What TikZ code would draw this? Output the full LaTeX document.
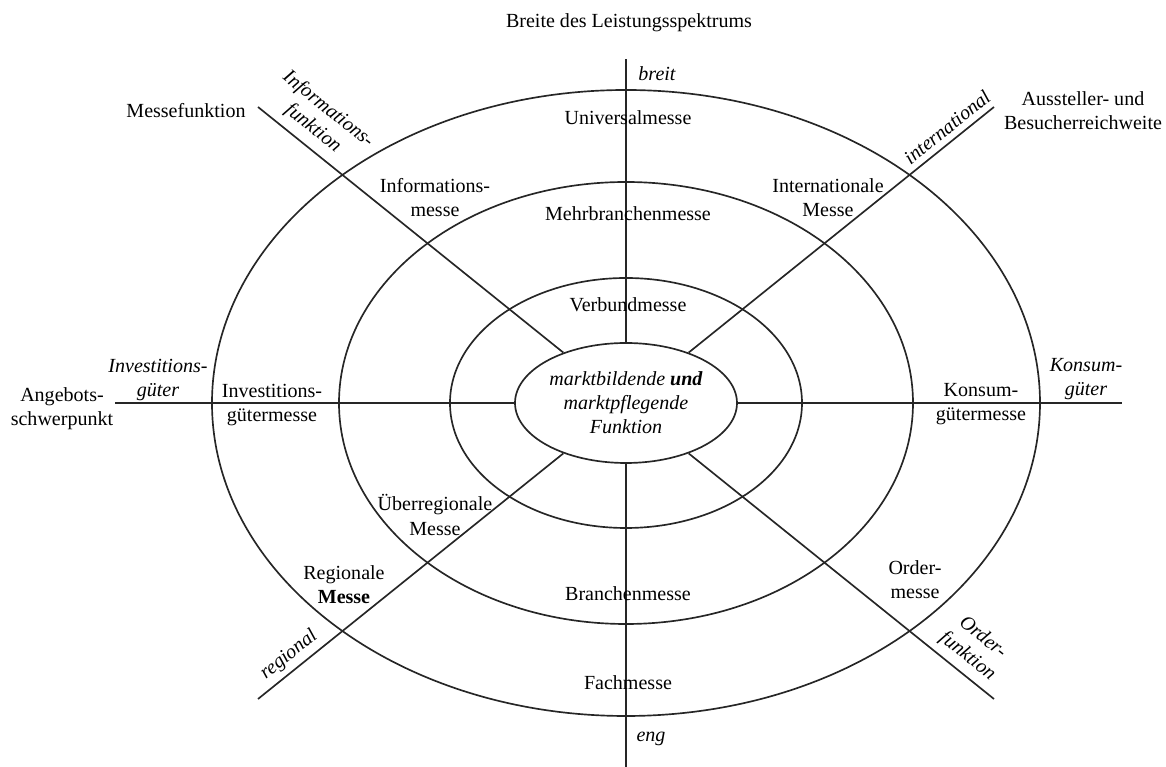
\documentclass[tikz,border=0pt]{standalone}
\usepackage{fontspec}
\setmainfont{Liberation Serif}
\usepackage{tikz}
\usetikzlibrary{shapes.geometric}
\definecolor{messeline}{HTML}{262626}

\begin{document}
\begin{tikzpicture}[
  font=\fontsize{11.4}{13.7}\selectfont,
  ring/.style={draw=messeline, line width=0.95pt},
  achse/.style={draw=messeline, line width=0.95pt},
  core/.style={ellipse, draw=messeline, line width=0.95pt, fill=white,
               minimum width=4.44cm, minimum height=2.4cm, inner sep=0pt,
               align=center, font=\fontsize{11.4}{13.7}\selectfont\itshape},
  lbl/.style={align=center, inner sep=1pt},
  pol/.style={align=center, inner sep=1pt, font=\fontsize{11.4}{13.7}\selectfont\itshape},
]
\useasboundingbox (-12.52,-7.28) rectangle (10.80,8.06);

% ---------- the four rings
\draw[ring] (0,0) ellipse [x radius=8.28, y radius=6.26];
\draw[ring] (0,0) ellipse [x radius=5.74, y radius=4.42];
\draw[ring] (0,0) ellipse [x radius=3.52, y radius=2.50];
\node[core] (kern) at (0,0) {marktbildende \textbf{und}\\marktpflegende\\Funktion};

% ---------- the axes, from the core outwards
\coordinate (breitEnd) at (0,6.88);
\coordinate (engEnd)   at (0,-7.28);
\coordinate (invEnd)   at (-10.22,0);
\coordinate (konEnd)   at (9.92,0);
\coordinate (infEnd)   at (-7.36,5.92);
\coordinate (intEnd)   at (7.36,5.92);
\coordinate (regEnd)   at (-7.36,-5.92);
\coordinate (ordEnd)   at (7.36,-5.92);
\foreach \e in {breitEnd,engEnd,invEnd,konEnd,infEnd,intEnd,regEnd,ordEnd}
  \draw[achse] (kern) -- (\e);

% ---------- dimension titles
\node[lbl] (titel) at (0.06,7.6) {Breite des Leistungsspektrums};
\node[lbl] (mfkt) at (-8.8,5.84) {Messefunktion};
\node[lbl] (reich) at (9.14,5.84) {Aussteller- und\\Besucherreichweite};
\node[lbl] (angeb) at (-11.28,-0.12) {Angebots-\\schwerpunkt};

% ---------- poles at the line ends
\node[pol] (breit) at (0.62,6.58) {breit};
\node[pol] (eng) at (0.50,-6.72) {eng};
\node[pol] (invg) at (-9.36,0.46) {Investitions-\\güter};
\node[pol] (kong) at (9.2,0.48) {Konsum-\\güter};
\node[pol, rotate=-38.8] (infFkt) at (-6.11,5.68) {Informations-\\funktion};
\node[pol, rotate=38.8] (intl) at (6.42,5.52) {international};
\node[pol, rotate=38.8] (regl) at (-6.74,-5.04) {regional};
\node[pol, rotate=-38.8] (ordFkt) at (6.98,-4.88) {Order-\\funktion};

% ---------- fair types in the rings
\node[lbl] (univ) at (0.04,5.7) {Universalmesse};
\node[lbl] (mehr) at (0.04,3.78) {Mehrbranchenmesse};
\node[lbl] (verb) at (0.04,1.96) {Verbundmesse};
\node[lbl] (bran) at (0.04,-3.82) {Branchenmesse};
\node[lbl] (fach) at (0.04,-5.6) {Fachmesse};
\node[lbl] (infm) at (-3.82,4.1) {Informations-\\messe};
\node[lbl] (intm) at (4.04,4.1) {Internationale\\Messe};
\node[lbl] (invm) at (-7.08,-0.04) {Investitions-\\gütermesse};
\node[lbl] (konm) at (7.1,-0.02) {Konsum-\\gütermesse};
\node[lbl] (uebm) at (-3.82,-2.24) {Überregionale\\Messe};
\node[lbl] (regm) at (-5.64,-3.64) {Regionale\\\textbf{Messe}};
\node[lbl] (ordm) at (5.78,-3.54) {Order-\\messe};
\end{tikzpicture}
\end{document}
